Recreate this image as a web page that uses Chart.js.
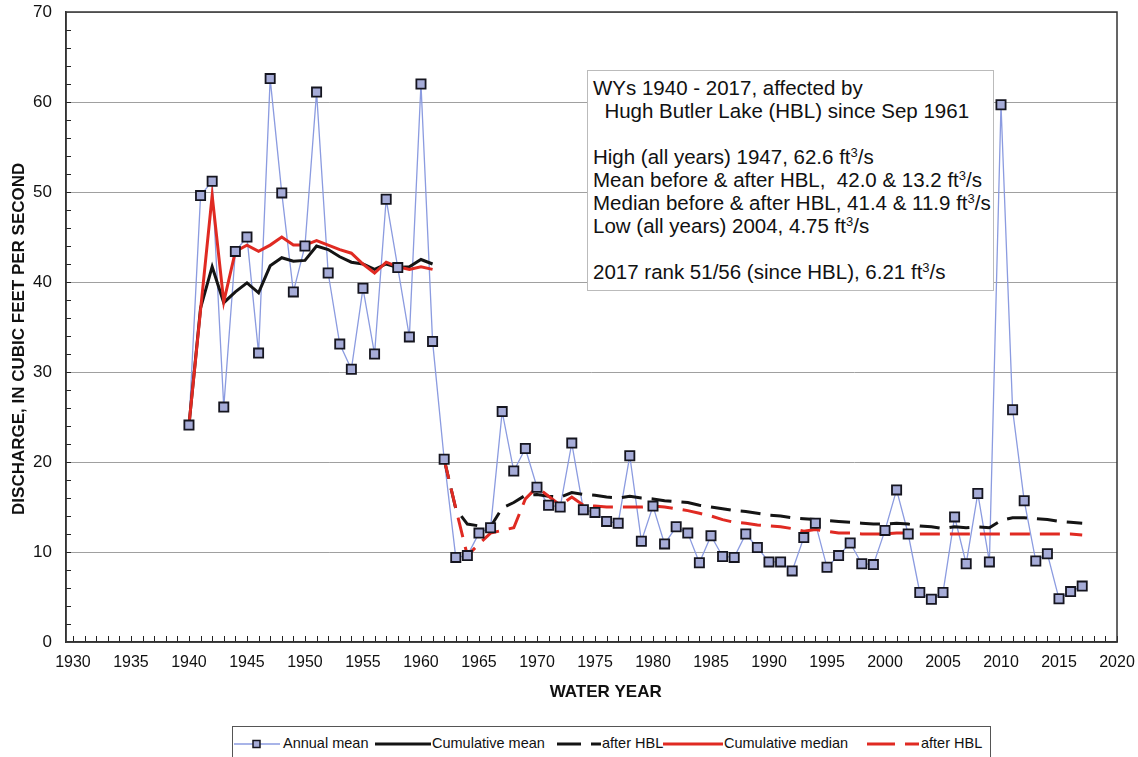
<!DOCTYPE html>
<html>
<head>
<meta charset="utf-8">
<script src="https://cdn.jsdelivr.net/npm/chart.js@4.4.1/dist/chart.umd.min.js"></script>
<style>
  body { margin: 0; background: #fff; font-family: Arial, "Liberation Sans", sans-serif; }
  #wrap { position: relative; width: 1138px; height: 757px; overflow: hidden; }
  #note {
    position: absolute; left: 587px; top: 70px; width: 400px; height: 214px;
    border: 1px solid #bbb; background: #fff; padding: 5px 0 0 5px;
    font-size: 20.5px; line-height: 23px; color: #111; white-space: pre;
  }
  #note sup { font-size: 13px; line-height: 0; vertical-align: 7px; }
  #legend {
    position: absolute; left: 232px; top: 726px; width: 757px; height: 40px;
    border: 1px solid #555; background: #fff;
    font-size: 14.5px; color: #111;
  }
  #legend .it { position: absolute; top: 8px; white-space: nowrap; }
  #legend svg { position: absolute; top: 9px; }
</style>
</head>
<body>
<div id="wrap">
  <canvas id="plot" width="1138" height="757"></canvas>
  <div id="note">WYs 1940 - 2017, affected by
  Hugh Butler Lake (HBL) since Sep 1961

High (all years) 1947, 62.6 ft<sup>3</sup>/s
Mean before &amp; after HBL,  42.0 &amp; 13.2 ft<sup>3</sup>/s
Median before &amp; after HBL, 41.4 &amp; 11.9 ft<sup>3</sup>/s
Low (all years) 2004, 4.75 ft<sup>3</sup>/s

2017 rank 51/56 (since HBL), 6.21 ft<sup>3</sup>/s</div>
  <div id="legend">
    <svg style="left:1px" width="46" height="16">
      <line x1="0" y1="8" x2="46" y2="8" stroke="#8b9be0" stroke-width="1.5"/>
      <rect x="19" y="4.5" width="7" height="7" fill="#a6acd8" stroke="#15151f" stroke-width="1.5"/>
    </svg>
    <span class="it" style="left:50px">Annual mean</span>
    <svg style="left:142px" width="56" height="16">
      <line x1="0" y1="8" x2="56" y2="8" stroke="#141414" stroke-width="3"/>
    </svg>
    <span class="it" style="left:199px">Cumulative mean</span>
    <svg style="left:324px" width="44" height="16">
      <line x1="0" y1="8" x2="44" y2="8" stroke="#141414" stroke-width="3" stroke-dasharray="24 10"/>
    </svg>
    <span class="it" style="left:369px">after HBL</span>
    <svg style="left:430px" width="60" height="16">
      <line x1="0" y1="8" x2="60" y2="8" stroke="#e02a22" stroke-width="3"/>
    </svg>
    <span class="it" style="left:491px">Cumulative median</span>
    <svg style="left:634px" width="52" height="16">
      <line x1="0" y1="8" x2="52" y2="8" stroke="#e02a22" stroke-width="3" stroke-dasharray="28 10"/>
    </svg>
    <span class="it" style="left:688px">after HBL</span>
  </div>
</div>
<script>
// --- Data (water years 1940-2017) ---
const years = [];
for (let y = 1940; y <= 2017; y++) years.push(y);

const annualMean = [
    24.1, 49.6, 51.2, 26.1, 43.4, 45.0, 32.1, 62.6, 49.9, 38.9,   // 1940-1949
    44.0, 61.1, 41.0, 33.1, 30.3, 39.3, 32.0, 49.2, 41.6, 33.9,   // 1950-1959
    62.0, 33.4, 20.3, 9.4, 9.6, 12.1, 12.7, 25.6, 19.0, 21.5,     // 1960-1969
    17.2, 15.2, 15.0, 22.1, 14.7, 14.4, 13.4, 13.2, 20.7, 11.2,   // 1970-1979
    15.1, 10.9, 12.8, 12.1, 8.8, 11.8, 9.5, 9.4, 12.0, 10.5,      // 1980-1989
    8.9, 8.9, 7.9, 11.6, 13.2, 8.3, 9.6, 11.0, 8.7, 8.6,          // 1990-1999
    12.4, 16.9, 12.0, 5.5, 4.75, 5.5, 13.9, 8.7, 16.5, 8.9,       // 2000-2009
    59.7, 25.8, 15.7, 9.0, 9.8, 4.8, 5.6, 6.21                    // 2010-2017
];

// before Hugh Butler Lake, 1940-1961
const yearsBefore = years.slice(0, 22);
const cumMeanBefore = [
    24.1, 37.1, 41.7, 37.7, 38.9, 39.9, 38.8, 41.8, 42.7, 42.3,
    42.4, 44.0, 43.6, 42.8, 42.2, 42.0, 41.4, 42.0, 41.6, 41.7,
    42.5, 42.0
];
const cumMedianBefore = [
    24.1, 36.9, 49.6, 37.8, 43.4, 44.1, 43.4, 44.1, 45.0, 44.1,
    44.1, 44.6, 44.1, 43.6, 43.2, 42.0, 41.0, 42.2, 41.7, 41.4,
    41.7, 41.4
];

// after HBL, 1962-2017
const yearsAfter = years.slice(22);
const cumMeanAfter = [
    20.3, 14.8, 13.1, 12.9, 12.8, 14.9, 15.5, 16.3,
    16.4, 16.2, 16.1, 16.6, 16.4, 16.3, 16.1, 16.0, 16.2, 16.0,
    15.9, 15.7, 15.6, 15.5, 15.2, 15.0, 14.8, 14.6, 14.5, 14.3,
    14.1, 14.0, 13.8, 13.7, 13.6, 13.5, 13.4, 13.3, 13.2, 13.1,
    13.1, 13.2, 13.1, 12.9, 12.8, 12.6, 12.8, 12.7, 12.8, 12.7,
    13.5, 13.8, 13.8, 13.7, 13.6, 13.4, 13.3, 13.2
];
const cumMedianAfter = [
    20.3, 14.85, 9.6, 10.9, 12.1, 12.4, 12.7, 15.9,
    17.2, 16.2, 15.2, 16.1, 15.2, 15.1, 15.0, 15.0, 15.0, 15.0,
    15.1, 15.0, 14.8, 14.6, 14.3, 14.0, 13.6, 13.3, 13.2, 13.0,
    12.9, 12.8, 12.6, 12.3, 12.5, 12.3, 12.1, 12.1, 12.0, 12.0,
    12.0, 12.1, 12.1, 12.0, 12.0, 12.0, 12.0, 12.0, 12.0, 12.0,
    12.0, 12.0, 12.0, 12.0, 12.0, 12.0, 12.0, 11.9
];

const xTickYears = [1930, 1935, 1940, 1945, 1950, 1955, 1960, 1965, 1970, 1975,
    1980, 1985, 1990, 1995, 2000, 2005, 2010, 2015, 2020];

const BLUE = '#8b9be0';
const RED = '#e02a22';
const BLACK = '#141414';

function pts(xs, ys) {
    return xs.map((x, i) => ({ x: x, y: ys[i] }));
}

// inside-pointing minor ticks plus a full frame around the plot area
const frameTicks = {
    id: 'frameTicks',
    afterDraw(chart) {
        const { ctx, chartArea: a, scales: { x, y } } = chart;
        ctx.save();
        ctx.strokeStyle = '#222';
        ctx.lineWidth = 1;
        ctx.beginPath();
        for (let yr = 1930; yr <= 2020; yr++) {
            const px = Math.round(x.getPixelForValue(yr)) + 0.5;
            ctx.moveTo(px, a.bottom);
            ctx.lineTo(px, a.bottom - 6);
        }
        for (let v = 2; v < 70; v += 2) {
            const py = Math.round(y.getPixelForValue(v)) + 0.5;
            ctx.moveTo(a.left, py);
            ctx.lineTo(a.left + 5, py);
        }
        ctx.stroke();
        ctx.lineWidth = 1.5;
        ctx.strokeStyle = '#333';
        ctx.strokeRect(a.left, a.top, a.right - a.left, a.bottom - a.top);
        ctx.restore();
    }
};

Chart.defaults.font.family = 'Arial, "Liberation Sans", sans-serif';
Chart.defaults.color = '#111';

new Chart(document.getElementById('plot'), {
    type: 'line',
    data: {
        datasets: [
            {
                label: 'Annual mean',
                data: pts(years, annualMean),
                showLine: false,
                pointStyle: 'rect',
                pointRadius: 6.5,
                pointBackgroundColor: '#a6acd8',
                pointBorderColor: '#15151f',
                pointBorderWidth: 1.8,
                order: 0
            },
            {
                label: 'Cumulative median',
                data: pts(yearsBefore, cumMedianBefore),
                borderColor: RED,
                borderWidth: 3,
                pointRadius: 0,
                order: 1
            },
            {
                label: 'after HBL (median)',
                data: pts(yearsAfter, cumMedianAfter),
                borderColor: RED,
                borderWidth: 3,
                borderDash: [20, 10],
                pointRadius: 0,
                order: 1
            },
            {
                label: 'Cumulative mean',
                data: pts(yearsBefore, cumMeanBefore),
                borderColor: BLACK,
                borderWidth: 3,
                pointRadius: 0,
                order: 2
            },
            {
                label: 'after HBL (mean)',
                data: pts(yearsAfter, cumMeanAfter),
                borderColor: BLACK,
                borderWidth: 3,
                borderDash: [20, 10],
                pointRadius: 0,
                order: 2
            },
            {
                label: 'Annual mean line',
                data: pts(years, annualMean),
                borderColor: BLUE,
                borderWidth: 1.3,
                pointRadius: 0,
                order: 3
            }
        ]
    },
    options: {
        responsive: false,
        animation: false,
        layout: { padding: { left: 0, top: 12, right: 21, bottom: 0 } },
        elements: { line: { tension: 0, borderCapStyle: 'butt' } },
        plugins: {
            legend: { display: false },
            tooltip: { enabled: false }
        },
        scales: {
            x: {
                type: 'linear',
                min: 1929.4,
                max: 2020,
                afterBuildTicks: (s) => { s.ticks = xTickYears.map(v => ({ value: v })); },
                afterFit: (s) => { s.height = 115; },
                grid: { display: true, drawOnChartArea: false, drawTicks: true, tickLength: 11, tickColor: 'rgba(0,0,0,0)' },
                border: { display: true, color: '#333', width: 1.5 },
                ticks: {
                    padding: 0,
                    maxRotation: 0,
                    autoSkip: false,
                    font: { size: 16 },
                    color: '#111',
                    callback: (v) => String(v)
                },
                title: {
                    display: true,
                    text: '      WATER YEAR',
                    font: { size: 17, weight: 'bold' },
                    color: '#111',
                    padding: { top: 0, bottom: 54 }
                }
            },
            y: {
                min: 0,
                max: 70,
                afterFit: (s) => { s.width = 66; },
                grid: { color: '#a0a0a0', lineWidth: 1, drawTicks: true, tickLength: 14, tickColor: 'rgba(0,0,0,0)' },
                border: { display: true, color: '#333', width: 1.5 },
                ticks: {
                    stepSize: 10,
                    padding: 0,
                    font: { size: 17 },
                    color: '#111'
                },
                title: {
                    display: true,
                    text: 'DISCHARGE, IN CUBIC FEET PER SECOND     ',
                    font: { size: 17, weight: 'bold' },
                    color: '#111',
                    padding: { top: 9, bottom: 0 }
                }
            }
        }
    },
    plugins: [frameTicks]
});
</script>
</body>
</html>
